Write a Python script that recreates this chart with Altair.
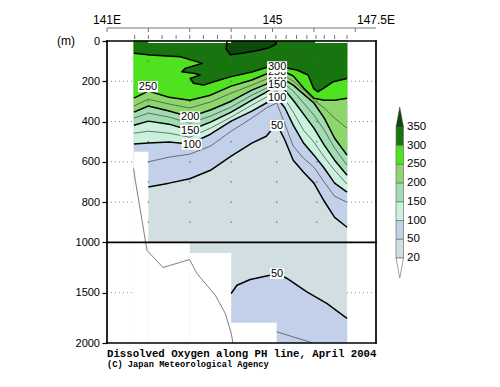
import altair as alt
import pandas as pd

# ---------------- values ----------------
# longitudes (deg E) where contour depths (m) were read
lon_pts = [141.65, 142.0, 142.5, 143.0, 143.5, 144.0, 144.5, 144.85, 145.1, 145.3, 145.5, 145.75, 146.0, 146.25, 146.5, 146.8]
c50  = [741, 725, 706, 684, 642, 572, 507, 473, 410, 493, 592, 652, 706, 796, 876, 925]
c75  = [667, 600, 577, 562, 522, 448, 383, 333, 308, 413, 522, 582, 627, 701, 771, 801]
c100 = [512, 507, 502, 512, 463, 398, 348, 308, 280, 333, 418, 507, 567, 632, 706, 751]
c125 = [458, 448, 458, 478, 433, 378, 318, 279, 246, 289, 353, 443, 502, 577, 642, 711]
c150 = [418, 398, 413, 443, 403, 353, 294, 254, 218, 244, 294, 363, 433, 517, 592, 667]
c175 = [383, 358, 378, 408, 373, 328, 269, 234, 194, 214, 249, 308, 368, 443, 532, 617]
c200 = [353, 323, 348, 377, 343, 299, 244, 214, 174, 194, 219, 264, 308, 383, 483, 567]
c225 = [323, 289, 313, 333, 303, 259, 219, 189, 160, 174, 199, 244, 294, 333, 383, 433]
c250 = [284, 249, 279, 294, 269, 224, 194, 164, 150, 154, 174, 234, 284, 294, 294, 284]

c300_lon = [141.65, 142.05, 142.77, 143.05, 143.30, 143.17, 142.89, 142.81, 143.13, 143.25, 143.01, 143.09,
            143.33, 143.58, 144.0, 144.5, 144.85, 145.1, 145.3, 145.59, 145.86, 145.99, 146.09, 146.23, 146.47, 146.8]
c300_dep = [61, 70, 78, 95, 111, 119, 136, 153, 161, 169, 186, 210,
            219, 202, 177, 154, 132, 126, 133, 144, 169, 235, 252, 235, 202, 186]
c325_lon = [145.72, 145.57, 145.48, 145.38, 145.19]
c325_dep = [0, 35, 70, 95, 124]
c350_lon = [143.90, 143.88, 143.98, 144.22, 144.58, 144.90, 145.09, 145.07]
c350_dep = [0, 40, 68, 62, 50, 35, 15, 0]

deep50_lon = [144.0, 144.14, 144.46, 144.94, 145.11, 145.35, 145.83, 146.31, 146.8]
deep50_dep = [1508, 1426, 1369, 1327, 1310, 1359, 1492, 1607, 1755]
deep75_lon = [145.1, 145.95]
deep75_dep = [1888, 1997]

# extent of the observations
cast_lon0 = [141.65, 142.0, 143.0, 144.0, 145.1]
cast_lon1 = [142.0, 143.0, 144.0, 145.1, 146.8]
cast_bottom = [550, 1000, 1106, 1800, 2000]
gap_lon0 = [142.0, 146.03]
gap_lon1 = [144.0, 146.8]
gap_bottom = [10, 10]

bathy_lon = [141.643, 141.684, 141.966, 142.353, 142.995, 143.174, 143.616, 143.858, 144.002, 144.043]
bathy_dep = [633, 692, 1079, 1250, 1171, 1310, 1525, 1706, 1904, 2000]

label_lon = [141.99, 143.01, 143.01, 143.05, 145.11, 145.11, 145.11, 145.11, 145.11, 145.11, 145.11]
label_dep = [227, 377, 443, 512, 174, 152, 128, 217, 280, 420, 1310]
label_txt = ["250", "200", "150", "100", "200", "250", "300", "150", "100", "50", "50"]

band_names = ["20-50", "50-100", "100-150", "150-200", "200-250", "250-300", "300-350", ">350"]
band_colors = ["#d2dfe2", "#c2d0ea", "#c9f1de", "#a2dcb3", "#8cd66c", "#4fe21e", "#18740f", "#0b4a0b"]
legend_vals = ["350", "300", "250", "200", "150", "100", "50", "20"]

lon_ticks = [141, 142, 143, 144, 145, 146, 147]
lon_label_at = [141, 145, 147.5]
lon_label_txt = ["141E", "145", "147.5E"]
station_lon = [141.67, 142.0, 142.33, 142.67, 143.0, 143.33, 143.67, 144.0, 144.33, 144.58, 144.83,
               145.08, 145.33, 145.58, 145.83, 146.05, 146.25, 146.5, 146.8]
grid_dep = [200, 400, 600, 800, 1500]
dot_lon = [142.0, 143.0, 144.0, 145.1, 146.07]
dot_dep = [100, 200, 300, 400, 500, 600, 700, 800, 900]

# ---------------- helpers ----------------
def U(d):
    # upper panel 0-1000 m at full scale, lower panel 1000-2000 m at half scale
    return d if d <= 1000 else 1000 + (d - 1000) / 2.0

XS = alt.Scale(domain=[141, 147.5], nice=False, zero=False)
YS = alt.Scale(domain=[0, 1500], reverse=True, nice=False, zero=False)
YAX = alt.Axis(values=[0, 200, 400, 600, 800, 1000, 1250, 1500],
               labelExpr="datum.value <= 1000 ? datum.value : 1000 + (datum.value - 1000) * 2",
               title=None, domain=False, grid=False, tickSize=5, tickColor="black", tickWidth=1.2,
               labelFont="Liberation Sans", labelFontSize=11, labelColor="black", labelPadding=2.5)


def X(f):
    return alt.X(f, type="quantitative", scale=XS, axis=None)


def Y(f):
    return alt.Y(f, type="quantitative", scale=YS, axis=YAX)


def path_df(lons, deps):
    return pd.DataFrame({"lon": lons, "u": [U(d) for d in deps], "i": list(range(len(lons)))})


def polygon(lons, deps, color):
    return alt.Chart(path_df(lons, deps)).mark_line(
        interpolate="linear-closed", fill=color, stroke=color, strokeWidth=0.5
    ).encode(x=X("lon"), y=Y("u"), order=alt.Order("i:Q"))


def polyline(lons, deps, width, color="black"):
    return alt.Chart(path_df(lons, deps)).mark_line(
        stroke=color, strokeWidth=width, strokeJoin="round"
    ).encode(x=X("lon"), y=Y("u"), order=alt.Order("i:Q"))


def rects(l0, l1, d0, d1, color):
    df = pd.DataFrame({"l0": l0, "l1": l1, "u0": [U(d) for d in d0], "u1": [U(d) for d in d1]})
    return alt.Chart(df).mark_rect(color=color, strokeWidth=0).encode(
        x=X("l0"), x2=alt.X2("l1"), y=Y("u0"), y2=alt.Y2("u1"))


layers = []

# dotted grid (under the shading)
gdf = pd.DataFrame({"l0": [141] * len(grid_dep), "l1": [147.5] * len(grid_dep), "u": [U(d) for d in grid_dep]})
layers.append(alt.Chart(gdf).mark_rule(color="#8a8a8a", strokeWidth=1, strokeDash=[1, 3]).encode(
    x=X("l0"), x2=alt.X2("l1"), y=Y("u")))

# shading, painted from the lowest class upwards
layers.append(rects([141.65], [146.8], [0], [2000], band_colors[0]))
surf = [146.8, 141.65]
layers.append(polygon(lon_pts + surf, c50 + [0, 0], band_colors[1]))
layers.append(polygon(deep50_lon + [146.8, 144.0], deep50_dep + [2000, 2000], band_colors[1]))
layers.append(polygon(lon_pts + surf, c100 + [0, 0], band_colors[2]))
layers.append(polygon(lon_pts + surf, c150 + [0, 0], band_colors[3]))
layers.append(polygon(lon_pts + surf, c200 + [0, 0], band_colors[4]))
layers.append(polygon(lon_pts + surf, c250 + [0, 0], band_colors[5]))
layers.append(polygon(c300_lon + surf, c300_dep + [0, 0], band_colors[6]))
layers.append(polygon(c350_lon, c350_dep, band_colors[7]))

# no observations there
layers.append(rects(cast_lon0, cast_lon1, cast_bottom, [2000] * len(cast_bottom), "white"))
layers.append(rects(gap_lon0, gap_lon1, [0] * len(gap_bottom), gap_bottom, "white"))

# grid dots
ddf = pd.DataFrame([(lo, U(d)) for lo in dot_lon for d in dot_dep], columns=["lon", "u"])
layers.append(alt.Chart(ddf).mark_point(shape="square", size=1.5, filled=True, color="#666", opacity=1).encode(
    x=X("lon"), y=Y("u")))

# contour lines
for arr in (c75, c125, c175, c225):
    start = 1 if arr is c75 else 0
    layers.append(polyline(lon_pts[start:], arr[start:], 0.75, "#4a4a4a"))
layers.append(polyline(c325_lon, c325_dep, 0.75, "#4a4a4a"))
layers.append(polyline(deep75_lon, deep75_dep, 0.75, "#4a4a4a"))
for arr in (c50, c100, c150, c200, c250):
    start = 1 if arr is c50 else 0
    layers.append(polyline(lon_pts[start:], arr[start:], 1.5))
layers.append(polyline(c300_lon, c300_dep, 1.5))
layers.append(polyline(c350_lon, c350_dep, 1.5))
layers.append(polyline(deep50_lon, deep50_dep, 1.5))

# sea floor
layers.append(polyline(bathy_lon, bathy_dep, 0.9, "#707070"))

# frame and 1000 m divider
fr = pd.DataFrame({"l0": [141, 141, 141], "l1": [147.5, 147.5, 147.5], "u": [0, 1000, 1500]})
layers.append(alt.Chart(fr).mark_rule(color="black", strokeWidth=1.7, strokeCap="square").encode(
    x=X("l0"), x2=alt.X2("l1"), y=Y("u")))
fv = pd.DataFrame({"l": [141, 147.5], "u0": [0, 0], "u1": [1500, 1500]})
layers.append(alt.Chart(fv).mark_rule(color="black", strokeWidth=1.7, strokeCap="square").encode(
    x=X("l"), y=Y("u0"), y2=alt.Y2("u1")))

# contour labels in white boxes
ldf = pd.DataFrame({"lon": label_lon, "u": [U(d) for d in label_dep], "t": label_txt,
                    "k": list(range(len(label_txt)))})
for k in range(len(label_txt)):
    row = ldf.iloc[[k]]
    wide = len(label_txt[k]) == 3
    shape = "M-1,-0.55L1,-0.55L1,0.55L-1,0.55Z" if wide else "M-0.7,-0.55L0.7,-0.55L0.7,0.55L-0.7,0.55Z"
    layers.append(alt.Chart(row).mark_point(shape=shape, size=400, filled=True, fill="white",
                                            opacity=1, strokeWidth=0).encode(x=X("lon"), y=Y("u")))
    layers.append(alt.Chart(row).mark_text(font="Liberation Sans", fontSize=11, color="black",
                                           baseline="middle", dy=0.5).encode(x=X("lon"), y=Y("u"), text="t:N"))

# top longitude axis
layers.append(alt.Chart(pd.DataFrame({"l0": [141], "l1": [147.5]})).mark_rule(color="#777", strokeWidth=1).encode(
    x=X("l0"), x2=alt.X2("l1"), y=alt.value(-13)))
layers.append(alt.Chart(pd.DataFrame({"lon": lon_ticks})).mark_rule(color="#777", strokeWidth=1).encode(
    x=X("lon"), y=alt.value(-13), y2=alt.value(-9)))
layers.append(alt.Chart(pd.DataFrame({"lon": station_lon})).mark_rule(color="#777", strokeWidth=1).encode(
    x=X("lon"), y=alt.value(-6), y2=alt.value(-2)))
layers.append(alt.Chart(pd.DataFrame({"lon": lon_label_at, "t": lon_label_txt})).mark_text(
    font="Liberation Sans", fontSize=12, color="black", baseline="middle").encode(
    x=X("lon"), y=alt.value(-21), text="t:N"))

layers.append(alt.Chart(pd.DataFrame({"t": ["(m)"]})).mark_text(
    font="Liberation Sans", fontSize=12, color="black", baseline="middle", align="center").encode(
    x=alt.value(-41), y=alt.value(0), text="t:N"))

# colour bar
bx0, bx1, btop, bh = 289, 296.5, 86, 18.72
for i in range(7):
    col = band_colors[6 - i]
    layers.append(alt.Chart(pd.DataFrame({"c": [col]})).mark_rect(
        fill=col, stroke="#707070", strokeWidth=0.7).encode(
        x=alt.value(bx0), x2=alt.value(bx1), y=alt.value(btop + i * bh), y2=alt.value(btop + (i + 1) * bh)))
layers.append(alt.Chart(pd.DataFrame({"c": [band_colors[7]]})).mark_point(
    shape="M0,-1L0.375,1L-0.375,1Z", size=400, filled=True, fill=band_colors[7], stroke="#444",
    strokeWidth=0.5, opacity=1).encode(x=alt.value((bx0 + bx1) / 2), y=alt.value(btop - 10)))
layers.append(alt.Chart(pd.DataFrame({"c": ["white"]})).mark_point(
    shape="M-0.375,-1L0.375,-1L0,1Z", size=400, filled=True, fill="white", stroke="#777",
    strokeWidth=0.7, opacity=1).encode(x=alt.value((bx0 + bx1) / 2), y=alt.value(btop + 7 * bh + 10)))
for i, v in enumerate(legend_vals):
    layers.append(alt.Chart(pd.DataFrame({"t": [v]})).mark_text(
        font="Liberation Sans", fontSize=11.5, color="black", align="left", baseline="middle").encode(
        x=alt.value(bx1 + 3.5), y=alt.value(btop + i * bh), text="t:N"))

# captions
layers.append(alt.Chart(pd.DataFrame({"t": ["Dissolved Oxygen along PH line, April 2004"]})).mark_text(
    font="Liberation Mono", fontSize=10.7, fontWeight="bold", color="black", align="left",
    baseline="alphabetic").encode(x=alt.value(0), y=alt.value(315.5), text="t:N"))
layers.append(alt.Chart(pd.DataFrame({"t": ["(C) Japan Meteorological Agency"]})).mark_text(
    font="Liberation Mono", fontSize=8.7, fontWeight="bold", color="black", align="left",
    baseline="alphabetic").encode(x=alt.value(0), y=alt.value(325.5), text="t:N"))

chart = alt.layer(*layers).properties(
    width=269, height=302,
    padding={"left": 99, "top": 33, "right": 116, "bottom": 36},
    autosize=alt.AutoSizeParams(type="none"),
).configure_view(strokeWidth=0)

chart.save("out.html", embed_options={"renderer": "svg", "actions": False})
